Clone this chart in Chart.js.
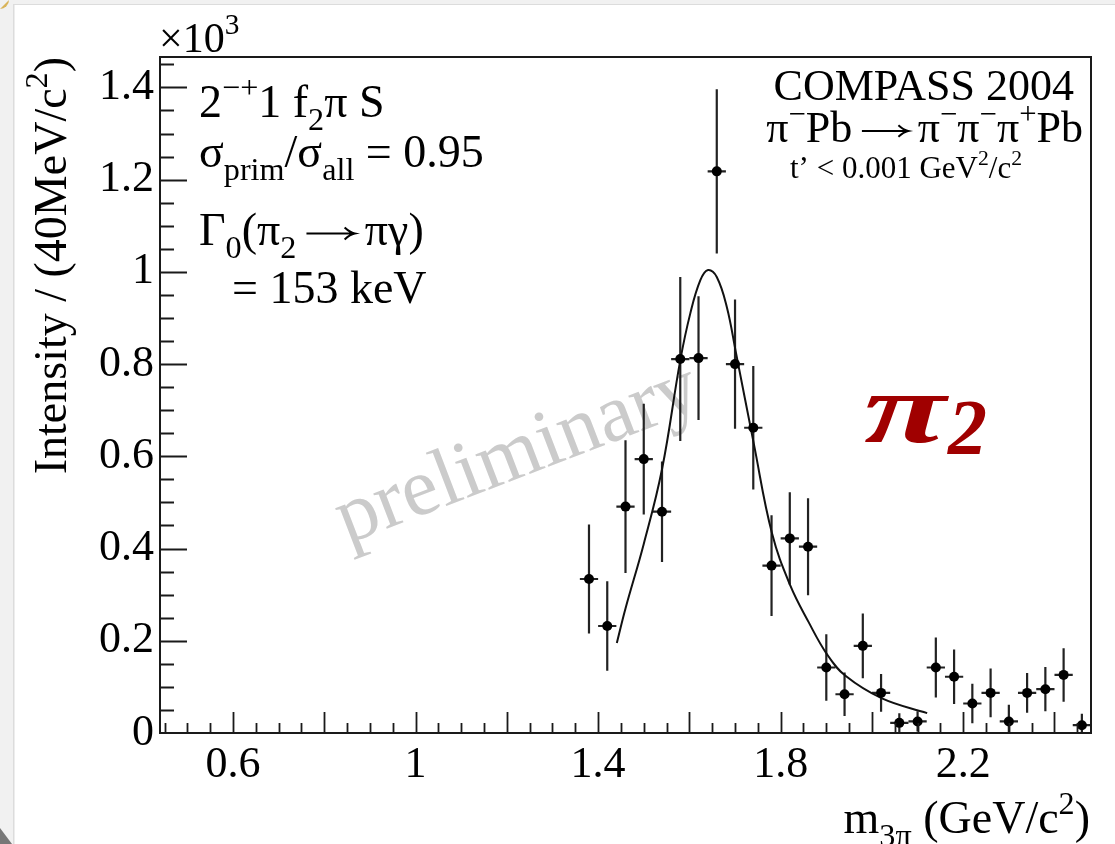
<!DOCTYPE html>
<html>
<head>
<meta charset="utf-8">
<script src="https://cdn.jsdelivr.net/npm/chart.js@4.4.1/dist/chart.umd.min.js"></script>
<style>
  html, body { margin: 0; padding: 0; background: #fff; }
  canvas { display: block; }
</style>
</head>
<body>
<canvas id="c" width="1115" height="844"></canvas>
<script>
// 3π invariant mass bins (GeV/c^2), 40 MeV wide
const massBins = [1.38, 1.42, 1.46, 1.50, 1.54, 1.58, 1.62, 1.66, 1.70, 1.74,
                  1.78, 1.82, 1.86, 1.90, 1.94, 1.98, 2.02, 2.06, 2.10, 2.14,
                  2.18, 2.22, 2.26, 2.30, 2.34, 2.38, 2.42, 2.46];
// intensity per bin (x10^3 events)
const intensity = [0.334, 0.232, 0.491, 0.594, 0.480, 0.811, 0.813, 1.218, 0.800, 0.662,
                   0.363, 0.422, 0.404, 0.142, 0.084, 0.189, 0.087, 0.022, 0.025, 0.142,
                   0.122, 0.064, 0.087, 0.025, 0.087, 0.095, 0.126, 0.017];
// statistical uncertainty per bin
const intensityErr = [0.118, 0.097, 0.144, 0.120, 0.109, 0.178, 0.134, 0.178, 0.140, 0.134,
                      0.109, 0.100, 0.105, 0.072, 0.047, 0.070, 0.041, 0.021, 0.022, 0.065,
                      0.059, 0.043, 0.053, 0.036, 0.043, 0.048, 0.058, 0.025];
const binHalfWidth = 0.02;

// Breit-Wigner fit of the pi2(1670) peak, sampled along the curve
const fitMass = [1.441, 1.460, 1.500, 1.540, 1.580, 1.602, 1.624, 1.641, 1.660, 1.682,
                 1.702, 1.741, 1.781, 1.821, 1.861, 1.902, 1.942, 2.022, 2.121];
const fitIntensity = [0.195, 0.270, 0.410, 0.572, 0.808, 0.910, 0.982, 1.004, 0.989, 0.924,
                      0.825, 0.628, 0.433, 0.320, 0.241, 0.170, 0.124, 0.075, 0.043];

// axis tick labels
const xTickValues = [0.6, 1.0, 1.4, 1.8, 2.2];
const xTickLabels = ['0.6', '1', '1.4', '1.8', '2.2'];
const yTickValues = [0, 0.2, 0.4, 0.6, 0.8, 1.0, 1.2, 1.4];
const yTickLabels = ['0', '0.2', '0.4', '0.6', '0.8', '1', '1.2', '1.4'];

const SERIF = '"Liberation Serif", "Times New Roman", serif';
const fnt = (size, style) => (style ? style + ' ' : '') + size + 'px ' + SERIF;

// text with sub/superscripts and arrows: runs of [text, mode]
const ARROW_W = 1.05, ARROW_GAP = 0.22;
function runWidth(ctx, t, m, size, style) {
  if (m === 'arrow') return size * (ARROW_W + 2 * ARROW_GAP);
  ctx.font = fnt(m ? size * 0.7 : size, style);
  return ctx.measureText(t).width;
}
function richWidth(ctx, runs, size, style) {
  return runs.reduce((w, [t, m]) => w + runWidth(ctx, t, m, size, style), 0);
}
function drawRich(ctx, x, y, runs, size, style, align) {
  let cx = align === 'right' ? x - richWidth(ctx, runs, size, style) : x;
  ctx.textAlign = 'left';
  ctx.textBaseline = 'alphabetic';
  for (const [t, m] of runs) {
    const w = runWidth(ctx, t, m, size, style);
    if (m === 'arrow') {
      const x0 = cx + size * ARROW_GAP, x1 = cx + w - size * ARROW_GAP;
      const ay = y - size * 0.25;
      ctx.save();
      ctx.strokeStyle = ctx.fillStyle;
      ctx.lineWidth = size * 0.045;
      ctx.beginPath();
      ctx.moveTo(x0, ay); ctx.lineTo(x1 - 1, ay);
      ctx.moveTo(x1 - size * 0.22, ay - size * 0.13);
      ctx.quadraticCurveTo(x1 - size * 0.1, ay - size * 0.02, x1, ay);
      ctx.quadraticCurveTo(x1 - size * 0.1, ay + size * 0.02, x1 - size * 0.22, ay + size * 0.13);
      ctx.stroke();
      ctx.restore();
    } else {
      const s = m ? size * 0.7 : size;
      const dy = m === 'sub' ? size * 0.28 : (m === 'sup' ? -size * 0.42 : 0);
      ctx.font = fnt(s, style);
      ctx.fillText(t, cx, y + dy);
    }
    cx += w;
  }
}

const pagePlugin = {
  id: 'page',
  beforeDraw(chart) {
    const ctx = chart.ctx;
    ctx.save();
    ctx.fillStyle = '#ffffff';
    ctx.fillRect(0, 0, chart.width, chart.height);
    ctx.fillStyle = '#f1f1f1';
    ctx.fillRect(0, 0, 13, chart.height);
    ctx.fillRect(0, 0, chart.width, 4);
    ctx.fillStyle = '#dcdcdc';
    ctx.fillRect(13, 4, 1.5, chart.height);
    ctx.fillRect(13, 4, chart.width, 1);
    ctx.fillStyle = '#d9b45a';
    ctx.beginPath(); ctx.arc(0, 0, 9, 0, Math.PI / 2); ctx.fill();
    ctx.fillStyle = '#777';
    ctx.beginPath(); ctx.moveTo(0, 828); ctx.lineTo(12, 844); ctx.lineTo(0, 844); ctx.fill();
    ctx.restore();
  },
  beforeDatasetsDraw(chart) {
    const ctx = chart.ctx;
    ctx.save();
    // watermark
    ctx.translate(347, 544);
    ctx.rotate(-21 * Math.PI / 180);
    ctx.fillStyle = '#cbcbcb';
    ctx.font = fnt(82);
    ctx.textAlign = 'left';
    ctx.textBaseline = 'alphabetic';
    ctx.fillText('preliminary', 0, 0);
    ctx.restore();

    // error bars
    const { chartArea: a, scales: { x, y } } = chart;
    ctx.save();
    ctx.beginPath();
    ctx.rect(a.left, a.top, a.right - a.left, a.bottom - a.top);
    ctx.clip();
    ctx.strokeStyle = '#222';
    ctx.lineWidth = 2.2;
    massBins.forEach((m, i) => {
      const px = x.getPixelForValue(m);
      const py = y.getPixelForValue(intensity[i]);
      ctx.beginPath();
      ctx.moveTo(px, y.getPixelForValue(intensity[i] - intensityErr[i]));
      ctx.lineTo(px, y.getPixelForValue(intensity[i] + intensityErr[i]));
      ctx.moveTo(x.getPixelForValue(m - binHalfWidth), py);
      ctx.lineTo(x.getPixelForValue(m + binHalfWidth), py);
      ctx.stroke();
    });
    ctx.restore();
  },
  afterDraw(chart) {
    const { ctx, chartArea: a, scales: { x, y } } = chart;
    ctx.save();
    ctx.strokeStyle = '#1a1a1a';
    ctx.lineWidth = 2;
    ctx.strokeRect(a.left, a.top, a.right - a.left, a.bottom - a.top);
    ctx.lineWidth = 1.8;
    ctx.beginPath();
    for (let k = 9; k <= 49; k++) {
      const px = Math.round(x.getPixelForValue(k * 0.05)) + 0.5;
      const len = k % 4 === 0 ? 21 : 10;
      ctx.moveTo(px, a.bottom); ctx.lineTo(px, a.bottom - len);
    }
    for (let k = 1; k <= 29; k++) {
      const py = Math.round(y.getPixelForValue(k * 0.05)) + 0.5;
      const len = k % 4 === 0 ? 27 : 14;
      ctx.moveTo(a.left, py); ctx.lineTo(a.left + len, py);
    }
    ctx.stroke();

    ctx.fillStyle = '#000';
    // exponent of the intensity axis
    drawRich(ctx, 159, 52, [['×10', ''], ['3', 'sup']], 42);

    // axis titles
    drawRich(ctx, 1090, 833, [['m', ''], ['3π', 'sub'], [' (GeV/c', ''], ['2', 'sup'], [')', '']], 46, '', 'right');
    ctx.save();
    ctx.translate(66, 57);
    ctx.rotate(-Math.PI / 2);
    drawRich(ctx, 0, 0, [['Intensity / (40MeV/c', ''], ['2', 'sup'], [')', '']], 46, '', 'right');
    ctx.restore();

    // wave description
    drawRich(ctx, 199, 117, [['2', ''], ['−+', 'sup'], ['1 f', ''], ['2', 'sub'], ['π S', '']], 46);
    drawRich(ctx, 199, 167, [['σ', ''], ['prim', 'sub'], ['/σ', ''], ['all', 'sub'], [' = 0.95', '']], 46);
    drawRich(ctx, 199, 245, [['Γ', ''], ['0', 'sub'], ['(π', ''], ['2', 'sub'], ['', 'arrow'], ['πγ)', '']], 46);
    drawRich(ctx, 232, 303, [['= 153 keV', '']], 46);

    // experiment label
    drawRich(ctx, 1074, 100, [['COMPASS 2004', '']], 44, '', 'right');
    drawRich(ctx, 1083, 142, [['π', ''], ['−', 'sup'], ['Pb', ''], ['', 'arrow'], ['π', ''], ['−', 'sup'], ['π', ''], ['−', 'sup'], ['π', ''], ['+', 'sup'], ['Pb', '']], 44, '', 'right');
    drawRich(ctx, 790, 178, [['t’ < 0.001 GeV', ''], ['2', 'sup'], ['/c', ''], ['2', 'sup']], 31);

    // resonance name
    ctx.fillStyle = '#a00000';
    ctx.textAlign = 'left';
    ctx.textBaseline = 'alphabetic';
    ctx.save();
    ctx.translate(864, 442);
    ctx.scale(1.5, 1);
    ctx.font = fnt(100, 'italic bold');
    ctx.fillText('π', 0, 0);
    ctx.restore();
    ctx.font = fnt(78, 'italic bold');
    ctx.fillText('2', 948, 453);
    ctx.restore();
  }
};

Chart.defaults.font.family = SERIF;
Chart.defaults.color = '#000';

new Chart(document.getElementById('c'), {
  type: 'scatter',
  data: {
    datasets: [
      {
        label: 'fit',
        data: fitMass.map((m, i) => ({ x: m, y: fitIntensity[i] })),
        showLine: true,
        borderColor: '#111',
        borderWidth: 2,
        pointRadius: 0,
        tension: 0.4,
        order: 2
      },
      {
        label: 'data',
        data: massBins.map((m, i) => ({ x: m, y: intensity[i] })),
        pointRadius: 5,
        pointBackgroundColor: '#000',
        pointBorderColor: '#000',
        borderWidth: 0,
        order: 1
      }
    ]
  },
  options: {
    responsive: false,
    animation: false,
    devicePixelRatio: 1,
    layout: { padding: { left: 0, top: 57, right: 24, bottom: 0 } },
    plugins: { legend: { display: false }, tooltip: { enabled: false } },
    scales: {
      x: {
        type: 'linear',
        min: 0.44,
        max: 2.48,
        grid: { display: false, drawTicks: false },
        border: { display: false },
        afterBuildTicks: s => { s.ticks = xTickValues.map(v => ({ value: v })); },
        afterFit: s => { s.height = 111; },
        ticks: {
          autoSkip: false,
          maxRotation: 0,
          padding: 6,
          font: { size: 44 },
          color: '#000',
          callback: (v, i) => xTickLabels[i]
        }
      },
      y: {
        type: 'linear',
        min: 0,
        max: 1.466,
        grid: { display: false, drawTicks: false },
        border: { display: false },
        afterBuildTicks: s => { s.ticks = yTickValues.map(v => ({ value: v })); },
        afterFit: s => { s.width = 160; },
        ticks: {
          autoSkip: false,
          padding: 6,
          font: { size: 44 },
          color: '#000',
          callback: (v, i) => yTickLabels[i]
        }
      }
    }
  },
  plugins: [pagePlugin]
});
</script>
</body>
</html>
